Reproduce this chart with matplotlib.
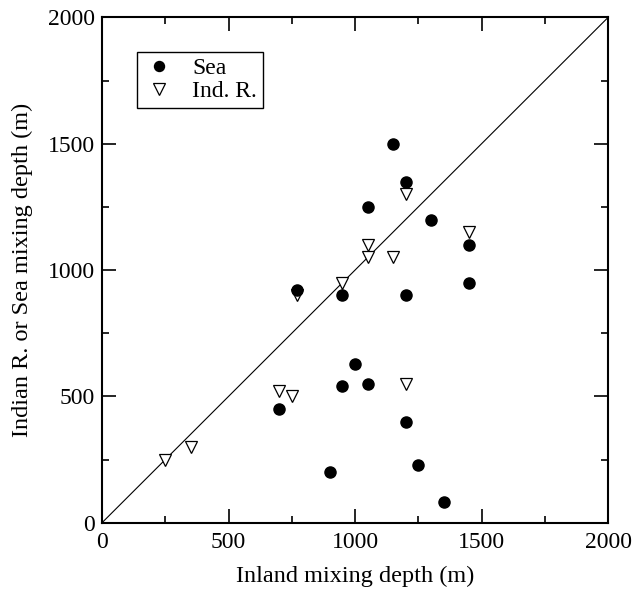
import matplotlib
import matplotlib.pyplot as plt
from matplotlib.ticker import MultipleLocator

matplotlib.use('Agg')

plt.rcParams['font.family'] = ['Liberation Serif', 'DejaVu Serif']

# inland depth vs sea / Indian River depth (m)
sea_x = [1150, 1200, 1050, 1300, 1450, 770, 950, 1200, 1450, 1000, 950,
         1050, 700, 1200, 1250, 900, 1350]
sea_y = [1500, 1350, 1250, 1200, 1100, 920, 900, 900, 950, 630, 540,
         550, 450, 400, 230, 200, 80]
ind_x = [1200, 1450, 1050, 1050, 1150, 950, 770, 1200, 700, 750, 250, 350]
ind_y = [1300, 1150, 1100, 1050, 1050, 950, 900, 550, 520, 500, 250, 300]
one_to_one = [0, 2000]

fig = plt.figure(figsize=(6.34, 5.91), dpi=100)
ax = fig.add_axes([0.161, 0.1156, 0.798, 0.8548])

ax.plot(one_to_one, one_to_one, color='black', lw=0.8, zorder=1)
ax.plot(sea_x, sea_y, 'o', color='black', ms=8, label='Sea', zorder=3)
ax.plot(ind_x, ind_y, 'v', mfc='white', mec='black', mew=0.9, ms=9,
        label='Ind. R.', zorder=2)

ax.set_xlim(0, 2000)
ax.set_ylim(0, 2000)
ax.xaxis.set_major_locator(MultipleLocator(500))
ax.yaxis.set_major_locator(MultipleLocator(500))
ax.xaxis.set_minor_locator(MultipleLocator(250))
ax.yaxis.set_minor_locator(MultipleLocator(250))
ax.tick_params(which='both', direction='in', top=True, right=True,
               labelsize=17, width=1.2)
ax.tick_params(which='major', length=10)
ax.tick_params(which='minor', length=5)
ax.tick_params(axis='x', which='major', pad=7)
ax.tick_params(axis='y', which='major', pad=5)
for s in ax.spines.values():
    s.set_linewidth(1.5)

ax.set_xlabel('Inland mixing depth (m)', fontsize=17.5, labelpad=9)
ax.set_ylabel('Indian R. or Sea mixing depth (m)', fontsize=17.5, labelpad=11)

leg = ax.legend(loc='upper left', bbox_to_anchor=(0.069, 0.932),
                borderaxespad=0, fontsize=17, fancybox=False,
                edgecolor='black', framealpha=1, handletextpad=0.7,
                borderpad=0.25, labelspacing=0.05, handlelength=1.4,
                markerscale=0.9)
leg.get_frame().set_linewidth(1.0)

fig.savefig('out.png', dpi=100)
plt.close(fig)
